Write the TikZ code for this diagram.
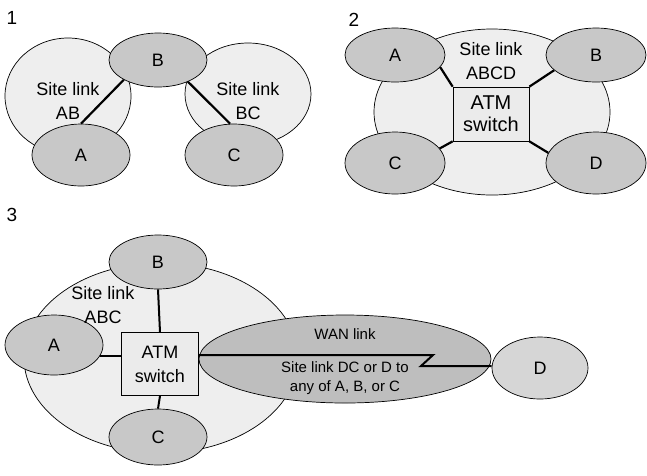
\documentclass[tikz,border=0pt]{standalone}
\usepackage{fontspec}
\setmainfont{Liberation Sans}
\usetikzlibrary{shapes.geometric}
\definecolor{bigfill}{HTML}{EEEEEE}
\definecolor{hostfill}{HTML}{C8C8C8}
\definecolor{wanfill}{HTML}{BEBEBE}
\definecolor{dfill}{HTML}{D6D6D6}
\definecolor{boxfill}{HTML}{EBEBEB}
\begin{document}
\begin{tikzpicture}[x=1pt,y=-1pt,
  site/.style={ellipse,draw=black,line width=0.7pt,fill=bigfill,inner sep=0pt},
  host/.style={ellipse,draw=black,line width=0.7pt,fill=hostfill,inner sep=0pt,font=\fontsize{18}{20}\selectfont},
  lbl/.style={align=center,inner sep=0pt,font=\fontsize{18}{24}\selectfont},
  sw/.style={draw=black,line width=0.7pt,fill=boxfill,inner sep=0pt,align=center},
  link/.style={line width=2.2pt},
  num/.style={inner sep=0pt,font=\fontsize{19}{20}\selectfont}]
\useasboundingbox (0,0) rectangle (647,475);
% ---------- panel 1
\node[num] (n1) at (12,18) {1};
\node[site,minimum width=126pt,minimum height=116pt] (s1ab) at (68,96) {};
\node[site,minimum width=126pt,minimum height=102pt] (s1bc) at (248,94) {};
\node[host,minimum width=98pt,minimum height=54pt] (b1) at (158,60) {B};
\node[host,minimum width=98pt,minimum height=62pt] (a1) at (81,155) {A};
\node[host,minimum width=98pt,minimum height=62pt] (c1) at (234,155) {C};
\draw[link] (b1.210) -- (a1.north);
\draw[link] (b1.324) -- (c1.97);
\node[lbl] (l1ab) at (68,101) {Site link\\AB};
\node[lbl] (l1bc) at (248,101) {Site link\\BC};
% ---------- panel 2
\node[num] (n2) at (354,20) {2};
\node[site,minimum width=236pt,minimum height=166pt] (s2) at (492,112) {};
\node[sw,minimum width=76pt,minimum height=54pt,font=\fontsize{20}{22}\selectfont] (atm2) at (491,114) {ATM\\switch};
\node[host,minimum width=100pt,minimum height=54pt] (a2) at (395,55) {A};
\node[host,minimum width=100pt,minimum height=54pt] (b2) at (596,55) {B};
\node[host,minimum width=100pt,minimum height=62pt] (c2) at (395,163) {C};
\node[host,minimum width=100pt,minimum height=62pt] (d2) at (596,163) {D};
\draw[link] (a2.-15) -- (atm2.north west);
\draw[link] (b2.200) -- (atm2.north east);
\draw[link] (c2.18) -- (atm2.south west);
\draw[link] (d2.168) -- (atm2.south east);
\node[lbl] (l2) at (491,61) {Site link\\ABCD};
% ---------- panel 3
\node[num] (n3) at (12,215) {3};
\node[site,minimum width=274pt,minimum height=190pt] (s3) at (161,358) {};
\node[ellipse,draw=black,line width=0.7pt,fill=wanfill,inner sep=0pt,minimum width=292pt,minimum height=88pt] (wan) at (345,359) {};
\node[sw,minimum width=77pt,minimum height=63pt,font=\fontsize{18}{24}\selectfont] (atm3) at (160,364) {ATM\\switch};
\node[host,minimum width=98pt,minimum height=54pt] (b3) at (158,262) {B};
\node[host,minimum width=98pt,minimum height=56pt] (c3) at (158,437) {C};
\node[host,minimum width=98pt,minimum height=60pt] (a3) at (54,345) {A};
\node[host,fill=dfill,minimum width=96pt,minimum height=62pt] (d3) at (540,368) {D};
\draw[link,line width=2pt] (b3.south) -- (atm3.north);
\draw[link,line width=2pt] (c3.north) -- (atm3.south);
\draw[link,line width=2pt] (a3.-14) -- (a3.-14 -| atm3.west);
\coordinate (z1) at (433,355);
\coordinate (z2) at (421,366);
\draw[link,line width=2pt] (atm3.east |- z1) -- (z1) -- (z2) -- (z2 -| d3.west);
\node[lbl] (l3) at (103,305) {Site link\\ABC};
\node[lbl,font=\fontsize{15}{19}\selectfont] (wl) at (345,334) {WAN link};
\node[lbl,font=\fontsize{15}{19}\selectfont] (wd) at (345,378.5) {Site link DC or D to\\any of A, B, or C};
\end{tikzpicture}
\end{document}
